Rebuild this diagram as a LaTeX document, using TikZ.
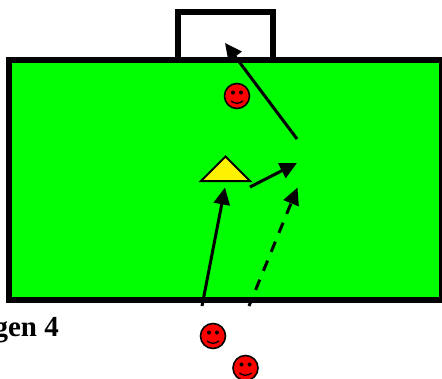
\documentclass[tikz,border=0pt]{standalone}
\usepackage{fontspec}
\setmainfont{Liberation Serif}
\usetikzlibrary{arrows.meta}
\tikzset{
  px/.style={x=1pt,y=-1pt},
  fieldbox/.style={draw=black,line width=5.8pt,fill=green,miter limit=10},
  goalbox/.style={draw=black,line width=6pt,fill=white},
  run/.style={draw=black,line width=3pt,-{Triangle[length=17pt,width=16pt]}},
  cone/.style={draw=black,line width=2pt,fill=yellow,line join=miter},
  face/.style={circle,draw=black,line width=1.6pt,fill=red,minimum size=25pt,inner sep=0pt},
  lbl/.style={font=\bfseries\fontsize{29}{31}\selectfont,inner sep=0pt,text=black}
}
\newcommand{\smiley}[3]{%
  \node[face] (#1) at (#2,#3) {};
  \fill[black] (#2-4,#3-3.5) circle (2pt);
  \fill[black] (#2+4,#3-3.5) circle (2pt);
  \draw[black,line width=1.3pt] (#2-6,#3+5) .. controls (#2-2,#3+8) and (#2+2,#3+8) .. (#2+6,#3+5);
}
\begin{document}
\begin{tikzpicture}[px]
\useasboundingbox (0,0) rectangle (442,378);
\clip (0,0) rectangle (442,378);
\draw[goalbox] (177.7,60) -- (177.7,12) -- (273,12) -- (273,60);
\draw[fieldbox] (9,60) rectangle (441.5,300);
\draw[cone] (201,181) -- (225.5,156.5) -- (250,181) -- cycle;
\smiley{f1}{237}{96}
\smiley{f2}{213}{336}
\smiley{f3}{245.5}{368}
\coordinate (a1) at (297,139);
\coordinate (a2) at (225,43);
\coordinate (b1) at (250,187);
\coordinate (b2) at (297,163);
\coordinate (c1) at (202,306);
\coordinate (c2) at (225,187.5);
\coordinate (d1) at (249,306);
\coordinate (d2) at (297.5,187.5);
\draw[run] (a1) -- (a2);
\draw[run] (b1) -- (b2);
\draw[run] (c1) -- (c2);
\draw[run,dash pattern=on 11pt off 9.5pt,dash phase=3pt] (d1) -- (d2);
\node[lbl,anchor=base east] (t) at (59,336) {gen 4};
\end{tikzpicture}
\end{document}
